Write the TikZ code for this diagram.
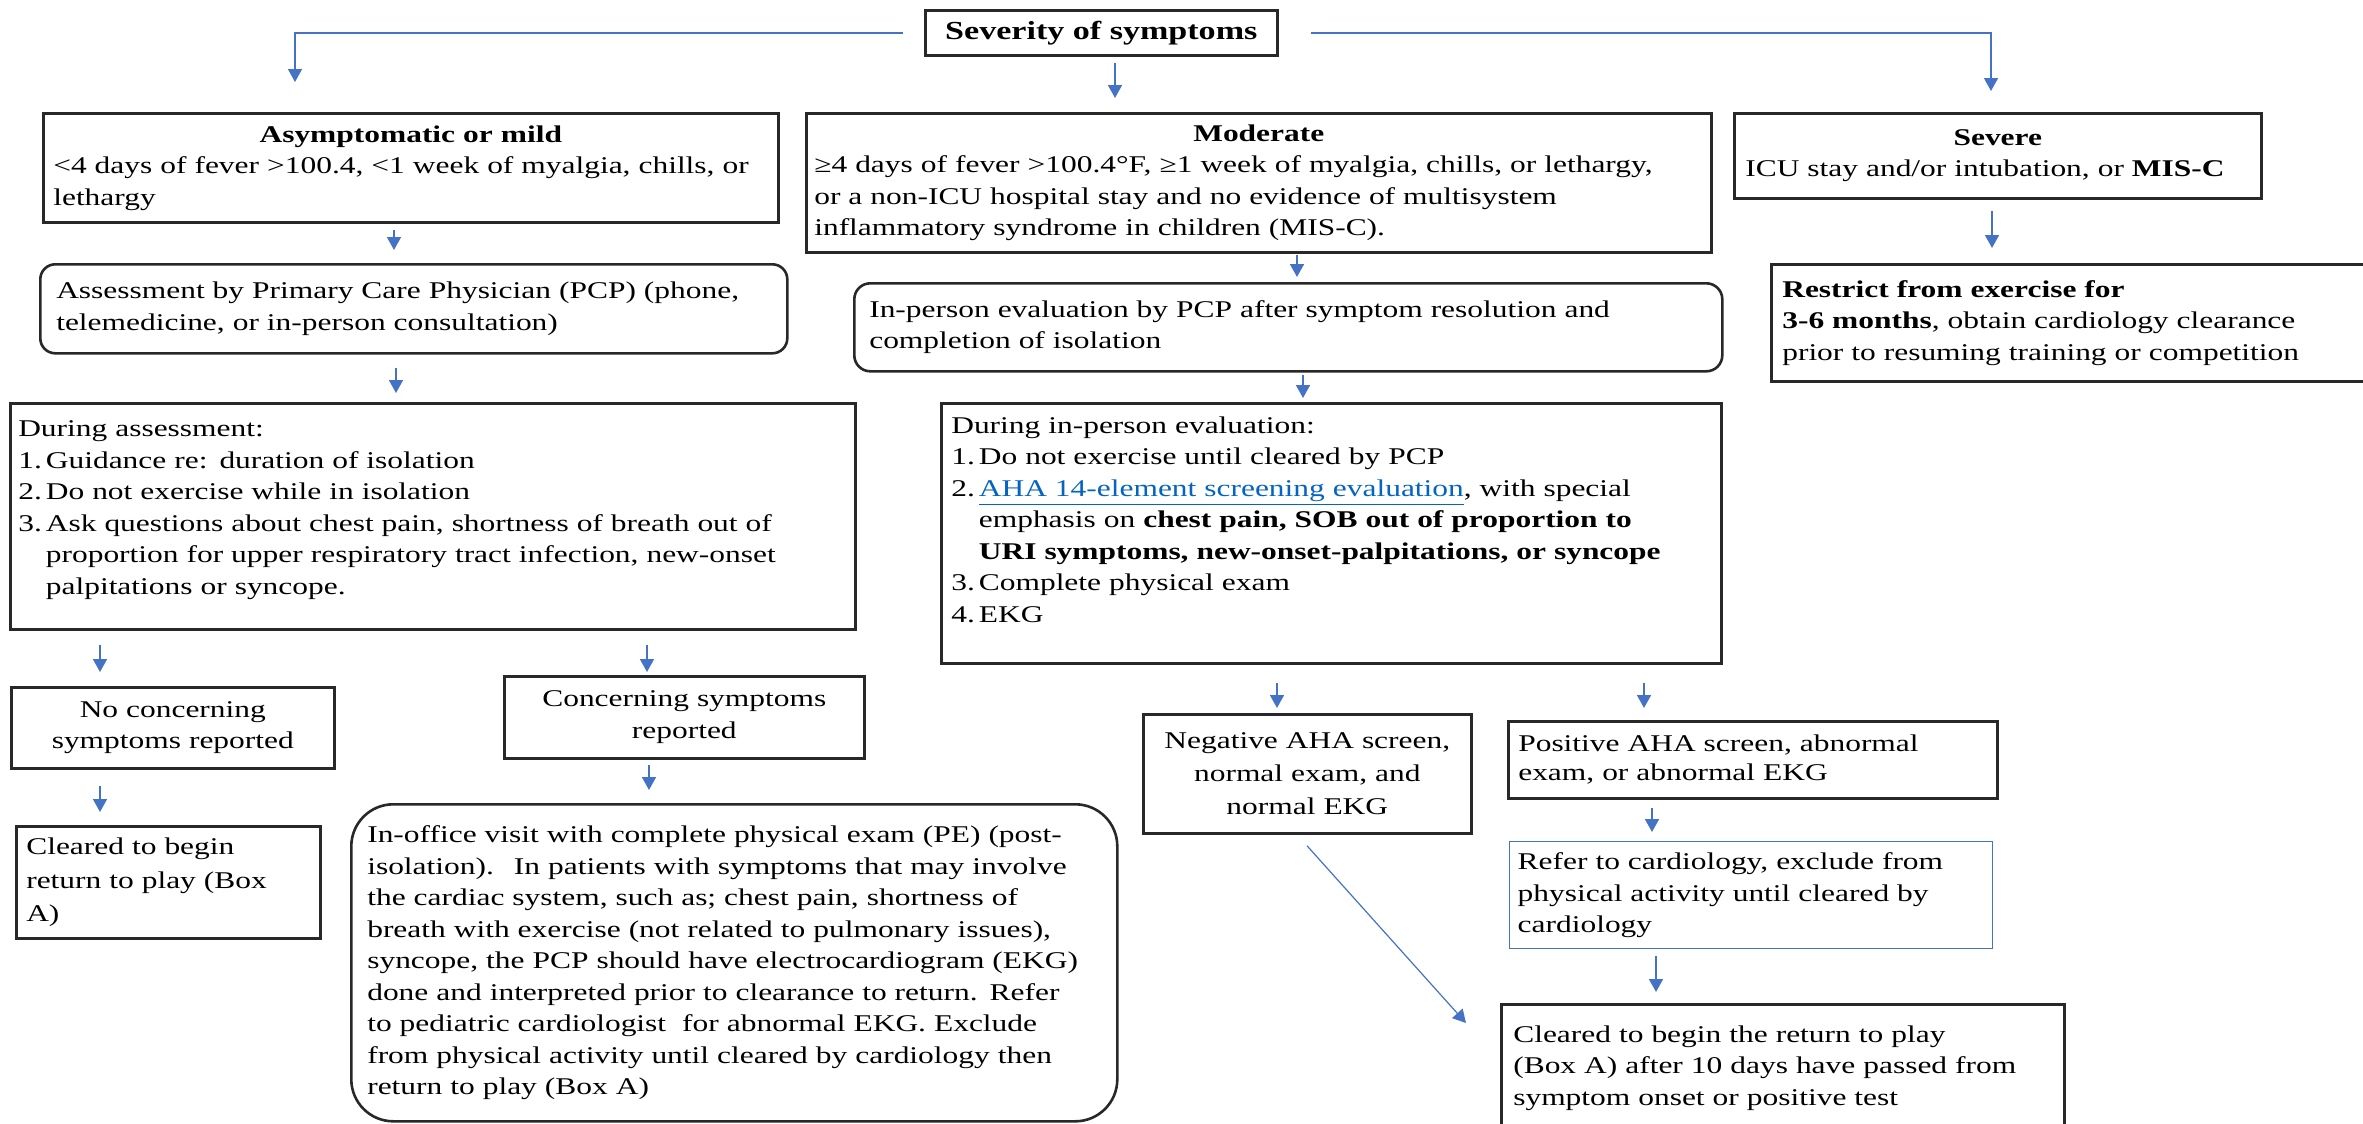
\documentclass[tikz,border=0pt]{standalone}
\usepackage{fontspec}
\setmainfont{Liberation Serif}[FakeStretch=1.31]
\usetikzlibrary{arrows.meta}

\definecolor{arrowblue}{RGB}{68,114,196}
\definecolor{linkblue}{RGB}{5,99,193}
\definecolor{boxline}{RGB}{40,40,40}

\newcommand{\ind}{\phantom{3.\,}}
\hyphenpenalty=10000
\exhyphenpenalty=10000

\tikzset{
  every node/.style={font=\fontsize{12}{15.75}\selectfont},
  box/.style={draw=boxline, line width=1.3pt, anchor=north west, inner ysep=0pt, align=left},
  flow/.style={draw=arrowblue, line width=0.8pt, -{Triangle[width=7pt,length=6.5pt]}},
}

\begin{document}
\begin{tikzpicture}[x=0.5pt,y=-0.5pt]
	\useasboundingbox (0,0) rectangle (2363,1124);

	\node[box, align=center, inner sep=0pt, minimum width=176pt, minimum height=22.5pt, font=\fontsize{13}{16}\selectfont\bfseries] (sev) at (924,9) {Severity of symptoms};

	\node[box, inner xsep=5pt, text width=357.5pt, minimum height=54.5pt] (asym) at (42,112)
		{\centerline{\textbf{Asymptomatic or mild}}
		<4 days of fever >100.4, <1 week of myalgia, chills, or\\
		lethargy};
	\node[box, inner xsep=4pt, text width=444.5pt, minimum height=69.5pt] (mod) at (805,112)
		{\centerline{\textbf{Moderate}}
		≥4 days of fever >100.4°F, ≥1 week of myalgia, chills, or lethargy,\\
		or a non-ICU hospital stay and no evidence of multisystem\\
		inflammatory syndrome in children (MIS-C).};
	\node[box, inner xsep=5.5pt, text width=252.5pt, minimum height=42.5pt] (sevr) at (1733,112)
		{\centerline{\textbf{Severe}}
		ICU stay and/or intubation, or \textbf{MIS-C}};

	\node[box, rounded corners=7.5pt, inner xsep=8pt, text width=357.5pt, minimum height=44.5pt] (assess) at (39,263)
		{Assessment by Primary Care Physician (PCP) (phone,\\
		telemedicine, or in-person consultation)};
	\node[box, rounded corners=8pt, inner xsep=7.5pt, text width=419pt, minimum height=44pt] (inper) at (853,282)
		{In-person evaluation by PCP after symptom resolution and\\
		completion of isolation};
	\node[box, inner xsep=5.5pt, text width=287.5pt, minimum height=58.5pt] (restrict) at (1770,263)
		{\textbf{Restrict from exercise for}\\
		\textbf{3-6 months}, obtain cardiology clearance\\
		prior to resuming training or competition};

	\node[box, inner xsep=4pt, text width=414.5pt, minimum height=113pt] (dur1) at (9,402)
		{During assessment:\\
		1.\,Guidance re: duration of isolation\\
		2.\,Do not exercise while in isolation\\
		3.\,Ask questions about chest pain, shortness of breath out of\\
		\ind proportion for upper respiratory tract infection, new-onset\\
		\ind palpitations or syncope.\\[-7pt]\mbox{}};
	\node[box, inner xsep=5pt, text width=380pt, minimum height=130pt] (dur2) at (940,402)
		{During in-person evaluation:\\
		1.\,Do not exercise until cleared by PCP\\
		2.\,\textcolor{linkblue}{\underline{AHA 14-element screening evaluation}}, with special\\
		\ind emphasis on \textbf{chest pain, SOB out of proportion to}\\
		\ind \textbf{URI symptoms, new-onset-palpitations, or syncope}\\
		3.\,Complete physical exam\\
		4.\,EKG\\[-2pt]\mbox{}};

	\node[box, align=center, inner xsep=5pt, text width=151.5pt, minimum height=40.5pt] (nocon) at (10,686)
		{No concerning\\ symptoms reported};
	\node[box, align=center, inner xsep=5pt, text width=170pt, minimum height=41pt] (concern) at (503,675)
		{Concerning symptoms\\ reported};
	\node[box, inner xsep=5pt, text width=142pt, minimum height=56pt, font=\fontsize{12}{16.75}\selectfont] (clr1) at (15,825)
		{Cleared to begin\\ return to play (Box\\ A)};
	\node[box, rounded corners=21pt, inner xsep=8pt, text width=367pt, minimum height=158.5pt] (inoff) at (350,803)
		{In-office visit with complete physical exam (PE) (post-\\
		isolation).~ In patients with symptoms that may involve\\
		the cardiac system, such as; chest pain, shortness of\\
		breath with exercise (not related to pulmonary issues),\\
		syncope, the PCP should have electrocardiogram (EKG)\\
		done and interpreted prior to clearance to return. Refer\\
		to pediatric cardiologist~ for abnormal EKG. Exclude\\
		from physical activity until cleared by cardiology then\\
		return to play (Box A)};

	\node[box, align=center, inner xsep=5pt, text width=154pt, minimum height=59.5pt, font=\fontsize{12}{16.5}\selectfont] (neg) at (1142,713)
		{Negative AHA screen,\\ normal exam, and\\ normal EKG};
	\node[box, inner xsep=5pt, text width=234.5pt, minimum height=38.5pt, font=\fontsize{12}{14.5}\selectfont] (pos) at (1507,720)
		{Positive AHA screen, abnormal\\ exam, or abnormal EKG};
	\node[box, draw=arrowblue, line width=0.7pt, inner xsep=4pt, text width=233.5pt, minimum height=53.5pt] (refer) at (1509,841)
		{Refer to cardiology, exclude from\\ physical activity until cleared by\\ cardiology};
	\node[box, inner xsep=6pt, text width=269.5pt, minimum height=63.5pt] (clr2) at (1500,1003)
		{Cleared to begin the return to play\\ (Box A) after 10 days have passed from\\ symptom onset or positive test};

	\draw[flow, line width=0.7pt, shorten >=15pt] ([xshift=-10.5pt]sev.west) -| (asym.north -| 295,0);
	\draw[flow, line width=0.7pt, shorten >=10.5pt] ([xshift=16pt]sev.east) -| (sevr.north -| 1991,0);
	\draw[flow, shorten <=3pt, shorten >=7pt] (sev.south -| 1115,0) -- (mod.north -| 1115,0);

	\draw[flow, shorten <=3pt, shorten >=6.5pt] (asym.south -| 394,0) -- (assess.north -| 394,0);
	\draw[flow, shorten <=5.5pt, shorten >=7.5pt] (sevr.south -| 1992,0) -- (restrict.north -| 1992,0);
	\draw[flow, shorten <=0.5pt, shorten >=2.5pt] (mod.south -| 1297,0) -- (inper.north -| 1297,0);
	\draw[flow, shorten <=6.5pt, shorten >=4.5pt] (assess.south -| 396,0) -- (dur1.north -| 396,0);
	\draw[flow, shorten <=1pt, shorten >=2pt] (inper.south -| 1303,0) -- (dur2.north -| 1303,0);

	\draw[flow, shorten <=7pt, shorten >=7pt] (dur1.south -| 100,0) -- (nocon.north -| 100,0);
	\draw[flow, shorten <=7pt, shorten >=1.5pt] (dur1.south -| 647,0) -- (concern.north -| 647,0);
	\draw[flow, shorten <=8pt, shorten >=6.5pt] (nocon.south -| 100,0) -- (clr1.north -| 100,0);
	\draw[flow, shorten <=2.5pt, shorten >=6.5pt] (concern.south -| 649,0) -- (inoff.north -| 649,0);

	\draw[flow, shorten <=9pt, shorten >=2.5pt] (dur2.south -| 1277,0) -- (neg.north -| 1277,0);
	\draw[flow, shorten <=9pt, shorten >=6pt] (dur2.south -| 1644,0) -- (pos.north -| 1644,0);
	\draw[flow, shorten <=4pt, shorten >=4.5pt] (pos.south -| 1652,0) -- (refer.north -| 1652,0);
	\draw[flow, shorten <=3.5pt, shorten >=5.5pt] (refer.south -| 1656,0) -- (clr2.north -| 1656,0);
	\draw[flow, line width=0.6pt, shorten <=7.5pt] (neg.south -| 1297,0) -- ([shift={(-34,20)}]clr2.north west);
\end{tikzpicture}
\end{document}
